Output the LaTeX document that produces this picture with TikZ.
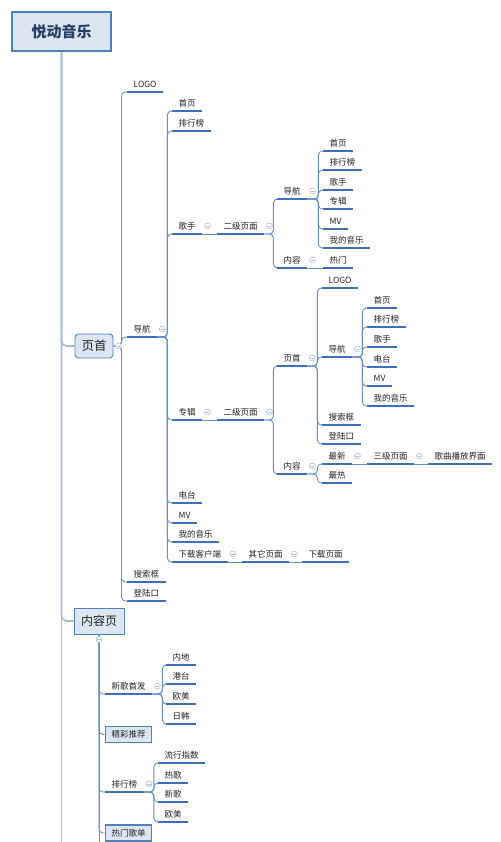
\documentclass[tikz,border=0pt]{standalone}
\usepackage{fontspec}
\setmainfont{Noto Sans CJK SC}
\usetikzlibrary{calc}
\definecolor{trunkc}{HTML}{A9BCD4}
\definecolor{connc}{HTML}{6690C6}
\definecolor{ulc}{HTML}{3F70B5}
\definecolor{boxfill}{HTML}{DCE6F2}
\definecolor{boxline}{HTML}{4F81BD}
\definecolor{txtc}{HTML}{222222}
\definecolor{colc}{HTML}{A3B7D0}
\definecolor{rootc}{HTML}{263F66}
\begin{document}
\begin{tikzpicture}[x=1pt,y=-1pt,
  it/.style={anchor=south west,inner xsep=6.5pt,inner ysep=0pt,text height=7.5pt,text depth=4.6pt,
    font=\fontsize{8.5pt}{10pt}\selectfont,text=txtc},
  ul/.style={draw=ulc,line width=1.7pt},
  conn/.style={draw=connc,line width=0.9pt,rounded corners=4pt},
  trunk/.style={draw=trunkc,line width=1.6pt,rounded corners=5pt},
  col/.style={circle,draw=colc,line width=0.5pt,minimum size=6pt,inner sep=0pt,fill=white,
    path picture={\draw[colc,line width=0.5pt] ([xshift=-1.8pt]path picture bounding box.center) -- ([xshift=1.8pt]path picture bounding box.center);}},
  rootbox/.style={draw=boxline,fill=boxfill,line width=2.6pt,minimum width=99pt,minimum height=39pt,
    font=\fontsize{15pt}{18pt}\selectfont\bfseries,text=rootc},
  topicbox/.style={draw=boxline,fill=boxfill,line width=0.9pt,text=txtc},
  smallbox/.style={draw=boxline,fill=boxfill,line width=1.6pt,minimum width=46pt,minimum height=16pt,
    inner sep=0pt,font=\fontsize{8.5pt}{10pt}\selectfont,text=txtc}
]
\useasboundingbox (0,0) rectangle (500,842);
\fill[white] (0,0) rectangle (500,842);

% root and main topics
\node[rootbox] (root) at (61.5,31.5) {悦动音乐};
\coordinate (bot1) at (61.5,842);
\node[topicbox,rounded corners=3.5pt,minimum width=38pt,minimum height=24pt,inner sep=0pt,
  font=\fontsize{12.5pt}{15pt}\selectfont] (ye) at (94,346) {页首};
\node[topicbox,minimum width=50pt,minimum height=26pt,inner sep=0pt,
  font=\fontsize{12pt}{15pt}\selectfont] (nrp) at (99,621) {内容页};
\coordinate (bot2) at (99,842);

% level under 页首
\node[it] (logo) at (127,92) {LOGO};
\node[it] (nav1) at (127,337) {导航};
\node[it] (search1) at (127,582) {搜索框};
\node[it] (login1) at (127,601) {登陆口};

% under 导航
\node[it] (bhome) at (172,111) {首页};
\node[it] (brank) at (172,131) {排行榜};
\node[it] (bsinger) at (172,234) {歌手};
\node[it] (balbum) at (172,420) {专辑};
\node[it] (bradio) at (172,503) {电台};
\node[it] (bmv) at (172,523) {MV};
\node[it] (bmy) at (172,542) {我的音乐};
\node[it] (bdl) at (172,562) {下载客户端};

% 歌手 branch
\node[it] (erji1) at (217,234) {二级页面};
\node[it] (nav2) at (277,199) {导航};
\node[it] (con2) at (277,268) {内容};
\node[it] (c2home) at (323,151) {首页};
\node[it] (c2rank) at (323,170) {排行榜};
\node[it] (c2singer) at (323,190) {歌手};
\node[it] (c2album) at (323,209) {专辑};
\node[it] (c2mv) at (323,229) {MV};
\node[it] (c2my) at (323,248) {我的音乐};
\node[it] (hot2) at (323,268) {热门};

% 专辑 branch
\node[it] (erji2) at (217,420) {二级页面};
\node[it] (ye2) at (277,366) {页首};
\node[it] (con3) at (277,474) {内容};
\node[it] (logo3) at (322,288) {LOGO};
\node[it] (nav3) at (322,357) {导航};
\node[it] (search3) at (322,425) {搜索框};
\node[it] (login3) at (322,444) {登陆口};
\node[it] (home3) at (367,308) {首页};
\node[it] (rank3) at (367,327) {排行榜};
\node[it] (singer3) at (367,347) {歌手};
\node[it] (radio3) at (367,367) {电台};
\node[it] (mv3) at (367,386) {MV};
\node[it] (my3) at (367,406) {我的音乐};
\node[it] (newest) at (322,464) {最新};
\node[it] (hottest) at (322,483) {最热};
\node[it] (san) at (367,464) {三级页面};
\node[it] (play) at (428,464) {歌曲播放界面};

% 下载客户端 chain
\node[it] (other) at (242,562) {其它页面};
\node[it] (dlpage) at (302,562) {下载页面};

% 内容页 children
\node[it] (xg) at (105,694) {新歌首发};
\node[it] (neidi) at (166,665) {内地};
\node[it] (gangtai) at (166,684) {港台};
\node[it] (oumei1) at (166,704) {欧美};
\node[it] (rihan) at (166,724) {日韩};
\node[smallbox] (jc) at (128.5,734.5) {精彩推荐};
\node[it] (phb) at (105,792) {排行榜};
\node[it] (lxzs) at (158,763) {流行指数};
\node[it] (rege) at (158,783) {热歌};
\node[it] (xinge) at (158,802) {新歌};
\node[it] (oumei2) at (158,822) {欧美};
\node[smallbox] (rm) at (128.5,833) {热门歌单};

% ---------- connectors ----------
\draw[trunk] (root.south) -- (bot1);
\draw[trunk] (root.south) |- (ye.west);
\draw[trunk] (root.south) |- (nrp.west);

\foreach \c in {logo,nav1,search1,login1}
  \draw[conn] (ye.east) -- ++(8,0) |- (\c.south west);
\foreach \c in {bhome,brank,bsinger,balbum,bradio,bmv,bmy,bdl}
  \draw[conn] (nav1.south east) -- ++(10,0) |- (\c.south west);
\draw[conn] (bsinger.south east) -- (erji1.south west);
\foreach \c in {nav2,con2}
  \draw[conn] (erji1.south east) -- ++(9,0) |- (\c.south west);
\foreach \c in {c2home,c2rank,c2singer,c2album,c2mv,c2my}
  \draw[conn] (nav2.south east) -- ++(11,0) |- (\c.south west);
\draw[conn] (con2.south east) -- (hot2.south west);

\draw[conn] (balbum.south east) -- (erji2.south west);
\foreach \c in {ye2,con3}
  \draw[conn] (erji2.south east) -- ++(9,0) |- (\c.south west);
\foreach \c in {logo3,nav3,search3,login3}
  \draw[conn] (ye2.south east) -- ++(10,0) |- (\c.south west);
\foreach \c in {home3,rank3,singer3,radio3,mv3,my3}
  \draw[conn] (nav3.south east) -- ++(10,0) |- (\c.south west);
\foreach \c in {newest,hottest}
  \draw[conn] (con3.south east) -- ++(10,0) |- (\c.south west);
\draw[conn] (newest.south east) -- (san.south west);
\draw[conn] (san.south east) -- (play.south west);

\draw[conn] (bdl.south east) -- (other.south west);
\draw[conn] (other.south east) -- (dlpage.south west);

\draw[conn] (nrp.south) -- (bot2);
\foreach \c in {xg,phb}
  \draw[conn] (nrp.south) |- (\c.south west);
\foreach \c in {jc,rm}
  \draw[conn] (nrp.south) |- (\c.west);
\foreach \c in {neidi,gangtai,oumei1,rihan}
  \draw[conn] (xg.south east) -- ++(10,0) |- (\c.south west);
\foreach \c in {lxzs,rege,xinge,oumei2}
  \draw[conn] (phb.south east) -- ++(10,0) |- (\c.south west);

% underlines
\foreach \n in {logo,nav1,search1,login1,bhome,brank,bsinger,balbum,bradio,bmv,bmy,bdl,
  erji1,nav2,con2,c2home,c2rank,c2singer,c2album,c2mv,c2my,hot2,
  erji2,ye2,con3,logo3,nav3,search3,login3,home3,rank3,singer3,radio3,mv3,my3,
  newest,hottest,san,play,other,dlpage,xg,neidi,gangtai,oumei1,rihan,phb,lxzs,rege,xinge,oumei2}
  \draw[ul] (\n.south west) -- (\n.south east);

% collapse markers
\node[col] (k0) at ([xshift=5pt]ye.east) {};
\node[col] (k00) at ([yshift=-5pt]nrp.south) {};
\foreach \n in {nav1,bsinger,erji1,nav2,con2,balbum,erji2,ye2,nav3,con3,newest,san,bdl,other,xg,phb}
  \node[col] (k-\n) at ([xshift=5pt,yshift=8pt]\n.south east) {};
\end{tikzpicture}
\end{document}
